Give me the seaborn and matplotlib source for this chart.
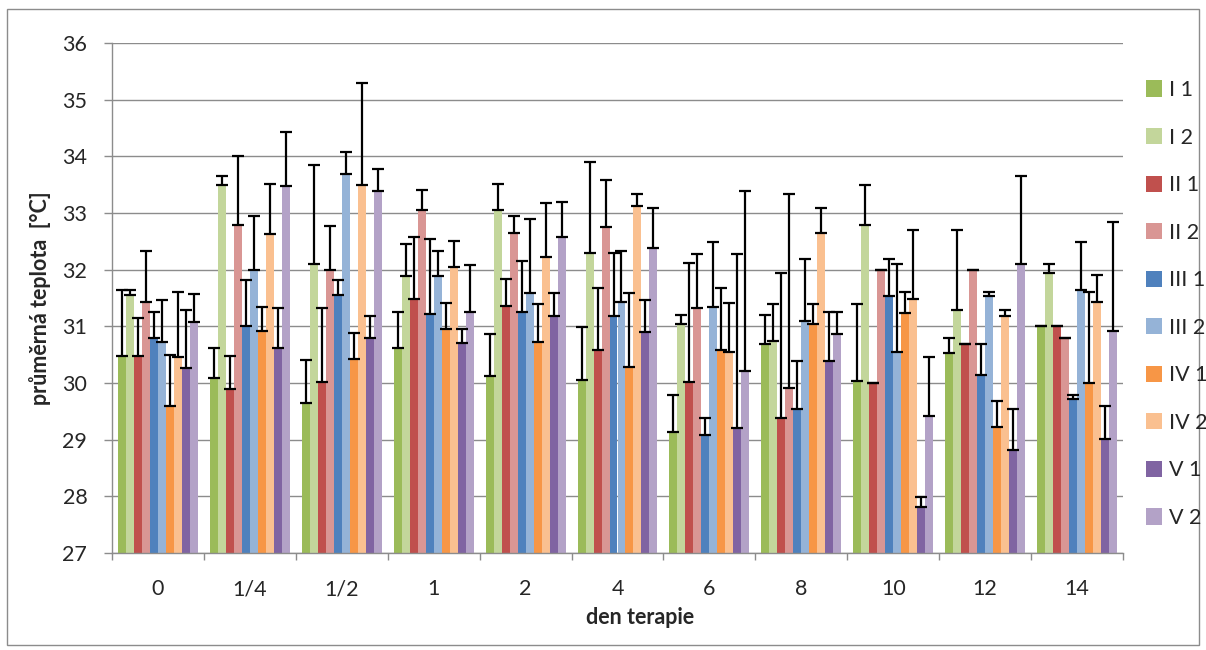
import numpy as np
import pandas as pd
import matplotlib
matplotlib.use("Agg")
import matplotlib.pyplot as plt
from matplotlib.patches import Rectangle
import seaborn as sns

days = ["0", "1/4", "1/2", "1", "2", "4", "6", "8", "10", "12", "14"]
series = ["I 1", "I 2", "II 1", "II 2", "III 1", "III 2", "IV 1", "IV 2", "V 1", "V 2"]
colors = ["#9BBB59", "#C3D69B", "#C0504D", "#D99694", "#4F81BD",
          "#95B3D7", "#F79646", "#FAC090", "#8064A2", "#B3A2C7"]

# mean values per series (one entry per day)
I1 = [30.48, 30.09, 29.65, 30.62, 30.12, 30.06, 29.14, 30.68, 30.04, 30.53, 31.00]
I2 = [31.55, 33.49, 32.10, 31.89, 33.05, 32.29, 31.04, 30.74, 32.79, 31.29, 31.95]
II1 = [30.48, 29.89, 30.02, 31.49, 31.36, 30.59, 30.02, 29.39, 30.00, 30.69, 31.00]
II2 = [31.43, 32.79, 31.99, 33.06, 32.65, 32.76, 31.32, 29.92, 31.99, 32.00, 30.79]
III1 = [30.79, 31.00, 31.55, 31.22, 31.26, 31.19, 29.09, 29.54, 31.54, 30.14, 29.72]
III2 = [30.72, 31.99, 33.69, 31.89, 31.59, 31.43, 31.34, 31.09, 30.54, 31.54, 31.64]
IV1 = [29.59, 30.92, 30.43, 30.96, 30.72, 30.29, 30.59, 31.05, 31.24, 29.23, 30.00]
IV2 = [30.46, 32.63, 33.49, 32.05, 32.22, 33.12, 30.55, 32.65, 31.49, 31.19, 31.43]
V1 = [30.27, 30.61, 30.79, 30.71, 31.19, 30.90, 29.21, 30.39, 27.82, 28.82, 29.02]
V2 = [31.07, 33.47, 33.39, 31.25, 32.58, 32.38, 30.21, 30.86, 29.42, 32.10, 30.92]

# upper end of the error bars
I1_hi = [31.65, 30.61, 30.40, 31.25, 30.87, 30.99, 29.79, 31.20, 31.40, 30.80, 31.00]
I2_hi = [31.65, 33.66, 33.85, 32.46, 33.51, 33.90, 31.20, 31.40, 33.49, 32.70, 32.10]
II1_hi = [31.14, 30.48, 31.33, 32.57, 31.83, 31.67, 32.11, 31.95, 30.00, 30.69, 31.00]
II2_hi = [32.33, 34.00, 32.77, 33.41, 32.95, 33.58, 32.27, 33.33, 32.00, 32.00, 30.79]
III1_hi = [31.26, 31.81, 31.82, 32.55, 32.16, 32.30, 29.39, 30.39, 32.19, 30.69, 29.78]
III2_hi = [31.46, 32.94, 34.08, 32.33, 32.89, 32.33, 32.49, 32.19, 32.10, 31.60, 32.49]
IV1_hi = [30.50, 31.34, 30.88, 31.41, 31.39, 31.58, 31.67, 31.39, 31.60, 29.69, 31.60]
IV2_hi = [31.61, 33.51, 35.29, 32.51, 33.17, 33.33, 31.41, 33.08, 32.70, 31.29, 31.90]
V1_hi = [31.29, 31.33, 31.18, 30.96, 31.58, 31.46, 32.27, 31.25, 27.99, 29.54, 29.60]
V2_hi = [31.57, 34.43, 33.77, 32.08, 33.19, 33.08, 33.39, 31.25, 30.46, 33.66, 32.84]

means = [I1, I2, II1, II2, III1, III2, IV1, IV2, V1, V2]
highs = [I1_hi, I2_hi, II1_hi, II2_hi, III1_hi, III2_hi, IV1_hi, IV2_hi, V1_hi, V2_hi]

rows = []
for s, m, h in zip(series, means, highs):
    for d, v, hv in zip(days, m, h):
        rows.append({"den": d, "serie": s, "hodnota": v, "horni": hv})
df = pd.DataFrame(rows)

sns.set_style("white")
plt.rcParams["font.family"] = ["Lato", "DejaVu Sans"]

FS = 15.5

fig = plt.figure(figsize=(12.06, 6.5), dpi=100)
ax = fig.add_axes([112 / 1206, 1 - 553 / 650, (1123 - 112) / 1206, (553 - 43) / 650])

sns.barplot(data=df, x="den", y="hodnota", hue="serie", order=days,
            hue_order=series, palette=colors, errorbar=None, width=0.87,
            linewidth=0, saturation=1, ax=ax, legend=True)

# error bars (upper only) drawn on the bar positions given by seaborn
for cont, s in zip(ax.containers, series):
    sub = df[df["serie"] == s].set_index("den").loc[days]
    xs = [p.get_x() + p.get_width() / 2 for p in cont.patches]
    ys = sub["hodnota"].values
    up = sub["horni"].values - ys
    ax.errorbar(xs, ys, yerr=[np.zeros_like(up), up], fmt="none",
                ecolor="black", elinewidth=1.6, capsize=4.3, capthick=1.6,
                zorder=3)

ax.set_ylim(27, 36)
ax.set_yticks(np.arange(27, 37, 1))
ax.set_xlim(-0.5, len(days) - 0.5)
ax.yaxis.grid(True, color="#8C8C8C", linewidth=1.0)
ax.set_axisbelow(True)

for sp in ["top", "right"]:
    ax.spines[sp].set_visible(False)
for sp in ["left", "bottom"]:
    ax.spines[sp].set_color("#8C8C8C")
    ax.spines[sp].set_linewidth(1.0)

ax.tick_params(axis="y", which="major", length=5.8, color="#8C8C8C", width=1,
               labelsize=FS, pad=12, direction="out", left=True)
ax.tick_params(axis="x", which="major", length=0, labelsize=FS, pad=19)
ax.set_xticks(np.arange(-0.5, len(days), 1.0), minor=True)
ax.tick_params(axis="x", which="minor", length=5, color="#8C8C8C", width=1,
               direction="out", bottom=True)

ax.set_xlabel("den terapie", fontsize=FS, fontweight="bold")
ax.xaxis.set_label_coords((640 - 112) / (1123 - 112), -(618 - 553) / 510)
ax.xaxis.label.set_va("center")
ax.set_ylabel("průměrná teplota  [°C]", fontsize=FS, fontweight="bold")
ax.yaxis.set_label_coords(-(112 - 40) / 1011, 0.5)
ax.yaxis.label.set_va("center")

handles, labels = ax.get_legend_handles_labels()
ax.legend_.remove()
fig.legend(handles, labels, loc="center left",
           bbox_to_anchor=(1146 / 1206, 1 - 304 / 650),
           frameon=False, fontsize=FS, handlelength=0.74, handleheight=0.77,
           handletextpad=0.33, labelspacing=1.28, borderpad=0, borderaxespad=0)

fig.patches.append(Rectangle((7 / 1206, 5 / 650), 1192 / 1206, 636 / 650,
                             transform=fig.transFigure, fill=False,
                             edgecolor="#8C8C8C", linewidth=1.0))

fig.savefig("out.png", dpi=100)
